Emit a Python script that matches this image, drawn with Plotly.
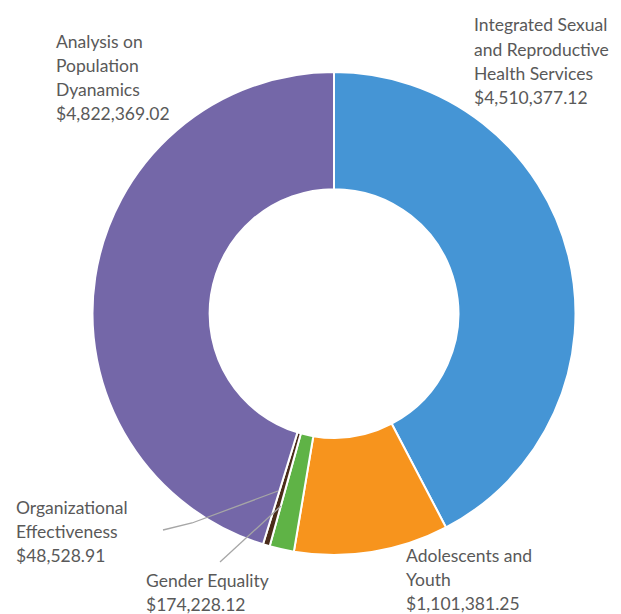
import plotly.graph_objects as go

# The page body has an 8px margin, so the figure is placed 8px in from the top-left.
OFF = 8
W, H = 621 - OFF, 614 - OFF

categories = [
    "Integrated Sexual and Reproductive Health Services",
    "Adolescents and Youth",
    "Gender Equality",
    "Organizational Effectiveness",
    "Analysis on Population Dyanamics",
]
values = [4510377.12, 1101381.25, 174228.12, 48528.91, 4822369.02]
colors = ["#4595d5", "#f7941d", "#5fb346", "#4a2c1a", "#7467a8"]

# label text lines (real text) and their anchor positions in screen pixels
label_lines = [
    ["Integrated Sexual", "and Reproductive", "Health Services", "$4,510,377.12"],
    ["Adolescents and", "Youth", "$1,101,381.25"],
    ["Gender Equality", "$174,228.12"],
    ["Organizational", "Effectiveness", "$48,528.91"],
    ["Analysis on", "Population", "Dyanamics", "$4,822,369.02"],
]
label_pos = [(472, 25), (404, 555), (144, 580), (14, 507), (54, 41)]
line_step = 24.3

# leader lines (screen pixel paths)
leaders = [
    [(163, 530), (192, 523), (278, 491)],
    [(220, 562), (281, 506)],
]

cx, cy, r = 334 - OFF, 313.5 - OFF, 241.5


def px(x):
    return (x - OFF) / W


def py(y):
    return 1 - (y - OFF) / H


fig = go.Figure(
    go.Pie(
        labels=categories,
        values=values,
        sort=False,
        direction="clockwise",
        rotation=0,
        hole=0.515,
        marker=dict(colors=colors, line=dict(color="white", width=2)),
        textinfo="none",
        hoverinfo="label+value+percent",
        showlegend=False,
        domain=dict(x=[(cx - r) / W, (cx + r) / W], y=[1 - (cy + r) / H, 1 - (cy - r) / H]),
    )
)

annotations = []
for lines, (x0, y0) in zip(label_lines, label_pos):
    for i, t in enumerate(lines):
        annotations.append(
            dict(
                text=t,
                x=px(x0),
                y=py(y0 + i * line_step),
                xref="paper",
                yref="paper",
                xanchor="left",
                yanchor="middle",
                showarrow=False,
                font=dict(family="Lato", size=17.5, color="#595959"),
            )
        )

shapes = []
for path in leaders:
    d = "M " + " L ".join(f"{px(x)},{py(y)}" for x, y in path)
    shapes.append(
        dict(type="path", path=d, xref="paper", yref="paper",
             line=dict(color="#a6a6a6", width=1.3))
    )

fig.update_layout(
    width=W,
    height=H,
    margin=dict(l=0, r=0, t=0, b=0),
    paper_bgcolor="white",
    plot_bgcolor="white",
    annotations=annotations,
    shapes=shapes,
)

fig.write_html("out.html")
